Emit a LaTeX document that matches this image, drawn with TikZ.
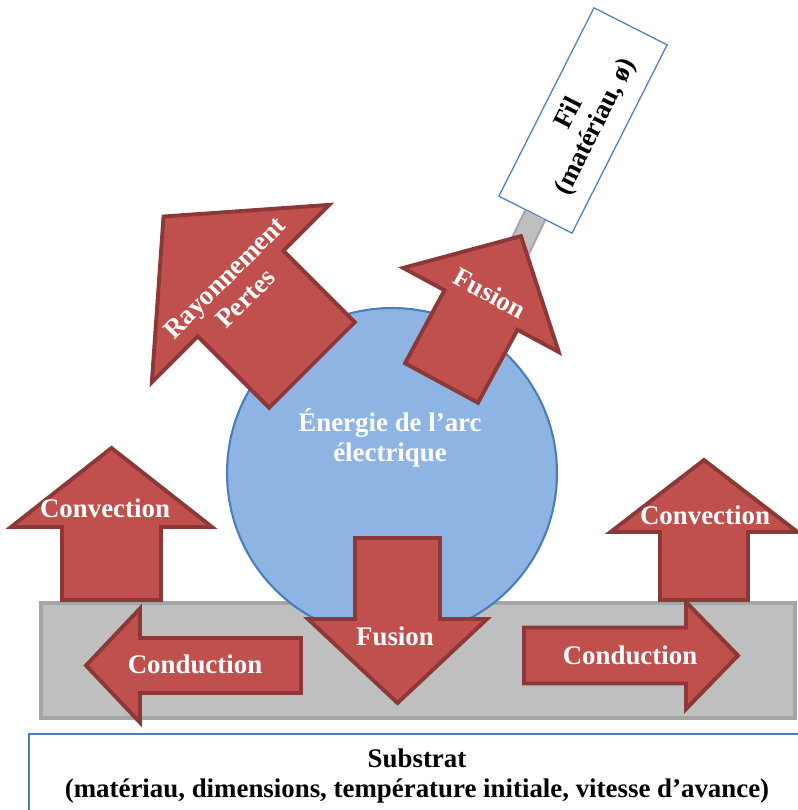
\documentclass[tikz,border=0pt]{standalone}
\usepackage{fontspec}
\setmainfont{Liberation Serif}
\usetikzlibrary{positioning}

\definecolor{rouge}{HTML}{C0504D}
\definecolor{rougefonce}{HTML}{8C3836}
\definecolor{bleu}{HTML}{8EB4E3}
\definecolor{bleufonce}{HTML}{4A7EBB}
\definecolor{gris}{HTML}{BFBFBF}
\definecolor{grisfonce}{HTML}{A5A5A5}

\begin{document}
\begin{tikzpicture}[
  x=0.02cm, y=-0.02cm,
  every node/.style={font=\fontsize{15.3}{16.8}\selectfont\bfseries, align=center},
  fleche/.style={fill=rouge, draw=rougefonce, line width=2.2pt, line join=miter},
  etiq/.style={text=white},
  boite/.style={draw=bleufonce, fill=white, line width=0.7pt},
  tige/.style={draw=grisfonce, line width=1.2pt, double=gris, double distance=0.4cm},
]
\useasboundingbox (0,0) rectangle (797,810);
% bloc du substrat
\node[draw=grisfonce, fill=gris, line width=1.9pt,
  minimum width=15.08cm, minimum height=2.3cm] (bloc) at (418,660.5) {};
% arc electrique
\node[circle, draw=bleufonce, fill=bleu, line width=1.2pt,
  minimum size=6.6cm] (arc) at (392,473) {};
% fil d'apport
\node[boite, rotate=63.2, minimum width=4.22cm, minimum height=1.64cm]
  (fil) at (583,120.5) {Fil\\(matériau, ø)};
\coordinate (pied) at (493,303);
\draw[tige] (fil.west) -- (pied);
% (x, y, angle, shaft length/width, head length/width)
\foreach \x/\y/\a/\sl/\sw/\hl/\hw in {
  111.5/600/90/73/99/79/201,
  704/600/90/68/88/72/187,
  301/665.5/180/161/55/54/114,
  524/655.5/0/162/56/52/107,
  397.5/538/270/81/85/84/179,
  312/365/135/101/121/109/251,
  441.5/383/61.6/83/83/84/177}
  \draw[fleche, shift={(\x,\y)}, rotate=\a]
    (0,-\sw/2) -- (\sl,-\sw/2) -- (\sl,-\hw/2) -- (\sl+\hl,0)
    -- (\sl,\hw/2) -- (\sl,\sw/2) -- (0,\sw/2) -- cycle;
% textes
\node[etiq] (convg) at (105,508) {Convection};
\node[etiq] (convd) at (705,515) {Convection};
\node[etiq] (condg) at (195,664) {Conduction};
\node[etiq] (condd) at (630,655) {Conduction};
\node[etiq] (fusionb) at (395,636) {Fusion};
\node[etiq, rotate=45] (rayon) at (235,288) {Rayonnement\\Pertes};
\node[etiq, rotate=-28.4] (fusionh) at (490,293) {Fusion};
\node[etiq] (energie) at (390,438) {Énergie de l’arc\\électrique};
\node[boite, minimum width=15.52cm, minimum height=1.68cm] (substrat)
  at (417,776) {Substrat\\(matériau, dimensions, température initiale, vitesse d’avance)};
\end{tikzpicture}
\end{document}
